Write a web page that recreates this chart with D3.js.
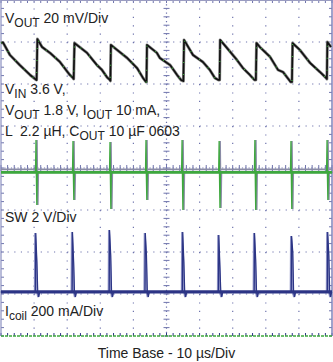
<!DOCTYPE html>
<html><head><meta charset="utf-8">
<script src="https://cdn.jsdelivr.net/npm/d3@7/dist/d3.min.js"></script>
<style>
body{margin:0;background:#fff}
svg{display:block}
text{font-family:"Liberation Sans",Arial,sans-serif;fill:#222;font-size:14px}
</style>
</head><body>
<svg id="c" width="333" height="362"></svg>
<script>
// ---- data (time in µs, VOUT in mV, SW in V, Icoil in mA) ----
const timeTicks = [0,10,20,30,40,50,60,70,80,90,100];
const divTicks = [-4,-3,-2,-1,0,1,2,3,4];

const voutTime = [0,0.6,2.7,5.7,8.8,10.3,10.75,
  11.0,12.4,14.8,17.8,20.8,21.75,21.95,
  22.2,26.0,29.0,30.5,32.0,32.9,33.05,
  33.2,34.4,38.1,41.1,42.9,43.8,43.95,
  44.1,47.1,48.0,51.1,53.2,54.4,55.1,
  55.3,58.0,61.0,63.1,64.6,65.7,66.05,
  66.2,68.3,71.3,73.1,75.2,76.6,77.0,
  77.2,78.2,81.3,83.7,85.2,87.5,87.9,
  88.1,90.3,93.4,96.4,98.2,98.45,
  98.6,99.7];
const voutMv = [19.5,19.8,13.8,9.0,4.3,2.4,1.9,
  21.4,17.6,14.8,10.5,4.3,2.9,2.4,
  19.5,14.8,9.0,6.7,3.3,1.9,1.5,
  18.6,17.1,12.4,7.6,2.9,1.0,1.0,
  18.6,14.8,12.4,9.0,4.3,1.9,1.4,
  21.0,13.8,10.5,6.7,2.9,1.9,1.9,
  21.0,17.1,11.4,7.6,4.3,1.9,1.9,
  19.5,17.6,12.9,6.7,5.7,1.0,1.0,
  19.5,16.2,10.0,5.7,2.9,2.4,
  20.0,17.6];

const swSpikeTime = [10.57,21.75,32.93,43.8,54.7,65.9,76.7,87.6,98.5];
const swSpikeHigh = [1.33,1.28,1.24,1.33,1.33,1.28,1.33,1.28,1.33];
const swSpikeLow  = [-1.76,-1.52,-1.95,-1.52,-2.0,-1.9,-2.0,-1.95,-1.52];
const swBase = -0.21;
const swGrayBase = -0.07;

const icoilSpikeTime = [10.5,21.6,32.8,43.6,54.9,65.8,76.6,87.8,98.7];
const icoilPeak = [290,295,305,290,295,281,290,276,295];
const icoilKnee = [152,152,185,185,152,129,162,200,185];
const icoilBase = 10;
const icoilUnder = -14;

// ---- scales ----
const W = 333, H = 362;
const x = d3.scaleLinear().domain([0,100]).range([1,332]);
const yDiv = d3.scaleLinear().domain([-4,4]).range([336,0]);
const yVout = d3.scaleLinear().domain([(-4-2)*20,(4-2)*20]).range([336,0]); // ref at +2 div, 20 mV/div
const ySw = d3.scaleLinear().domain([-4*2,4*2]).range([336,0]);             // ref at 0 div, 2 V/div
const yIc = d3.scaleLinear().domain([(-4+3)*200,(4+3)*200]).range([336,0]); // ref at -3 div, 200 mA/div

const svg = d3.select('#c');
svg.append('rect').attr('width',W).attr('height',H).attr('fill','#fff');

const gridCol = '#6f74ad';
const g = svg.append('g');

// dotted grid
timeTicks.slice(1,-1).forEach(t=>{
  if (t===50) return;
  g.append('line').attr('x1',x(t)).attr('x2',x(t)).attr('y1',yDiv(4)).attr('y2',yDiv(-4))
   .attr('stroke',gridCol).attr('stroke-width',1.2).attr('stroke-dasharray','1.2 7.2');
});
divTicks.slice(1,-1).forEach(d=>{
  if (d===0) return;
  g.append('line').attr('x1',x(0)).attr('x2',x(100)).attr('y1',yDiv(d)).attr('y2',yDiv(d))
   .attr('stroke',gridCol).attr('stroke-width',1.2).attr('stroke-dasharray','1.2 5.42');
});
// center axes with minor ticks
const minorT = d3.range(0,100.01,2);
const minorD = d3.range(-4,4.01,0.2);
g.append('line').attr('x1',x(50)).attr('x2',x(50)).attr('y1',yDiv(4)).attr('y2',yDiv(-4))
 .attr('stroke',gridCol).attr('stroke-width',1.2).attr('stroke-dasharray','1.2 3');
g.append('line').attr('x1',x(0)).attr('x2',x(100)).attr('y1',yDiv(0)).attr('y2',yDiv(0))
 .attr('stroke',gridCol).attr('stroke-width',1.2).attr('stroke-dasharray','1.2 2.1');
minorD.forEach(d=>{
  g.append('line').attr('x1',x(50)-3).attr('x2',x(50)+3).attr('y1',yDiv(d)).attr('y2',yDiv(d))
   .attr('stroke',gridCol).attr('stroke-width',1);
  g.append('line').attr('x1',x(0)).attr('x2',x(0)+3).attr('y1',yDiv(d)).attr('y2',yDiv(d))
   .attr('stroke',gridCol).attr('stroke-width',1);
  g.append('line').attr('x1',x(100)-3).attr('x2',x(100)).attr('y1',yDiv(d)).attr('y2',yDiv(d))
   .attr('stroke',gridCol).attr('stroke-width',1);
});
minorT.forEach(t=>{
  g.append('line').attr('x1',x(t)).attr('x2',x(t)).attr('y1',yDiv(0)-3).attr('y2',yDiv(0)+3)
   .attr('stroke',gridCol).attr('stroke-width',1);
  g.append('line').attr('x1',x(t)).attr('x2',x(t)).attr('y1',yDiv(4)).attr('y2',yDiv(4)+3)
   .attr('stroke',gridCol).attr('stroke-width',1);
  g.append('line').attr('x1',x(t)).attr('x2',x(t)).attr('y1',yDiv(-4)-3).attr('y2',yDiv(-4))
   .attr('stroke','#2c3585').attr('stroke-width',1);
});
// border
g.append('line').attr('x1',x(0)).attr('x2',x(100)).attr('y1',yDiv(4)+0.5).attr('y2',yDiv(4)+0.5).attr('stroke','#9a9cc0').attr('stroke-width',1);
g.append('line').attr('x1',x(0)).attr('x2',x(0)).attr('y1',yDiv(4)).attr('y2',yDiv(-4)).attr('stroke','#8a8fc0').attr('stroke-width',1.2);
g.append('line').attr('x1',x(100)).attr('x2',x(100)).attr('y1',yDiv(4)).attr('y2',yDiv(-4)).attr('stroke','#7f84bb').attr('stroke-width',1.5);
g.append('line').attr('x1',x(0)).attr('x2',x(100)).attr('y1',yDiv(-4)).attr('y2',yDiv(-4)).attr('stroke','#3ea83e').attr('stroke-width',1.6).attr('stroke-dasharray','3 1');

// ---- traces ----
const tr = svg.append('g');
// SW
const swPts = [[0,swBase]];
swSpikeTime.forEach((t,i)=>{
  swPts.push([t-0.15,swBase],[t,swSpikeHigh[i]],[t+0.1,swBase],[t+0.25,swSpikeLow[i]],[t+0.4,swBase]);
});
swPts.push([100,swBase]);
const lineSw = d3.line().x(d=>x(d[0])).y(d=>ySw(d[1]));
tr.append('path').attr('d',lineSw([[0,swGrayBase],[100,swGrayBase]])).attr('stroke','#8a8ca6').attr('stroke-width',1.8).attr('fill','none');
tr.append('path').attr('d',lineSw(swPts)).attr('stroke','#8a8ca6').attr('stroke-width',1.6).attr('fill','none').attr('transform','translate(1,0)');
tr.append('path').attr('d',lineSw([[0,swBase],[100,swBase]])).attr('stroke','#3ea83e').attr('stroke-width',2.8).attr('fill','none');
tr.append('path').attr('d',lineSw(swPts)).attr('stroke','#3ea83e').attr('stroke-width',1.3).attr('fill','none');

// Icoil
const icPts = [[0,icoilBase]];
icoilSpikeTime.forEach((t,i)=>{
  icPts.push([t-0.1,icoilBase],[t,icoilPeak[i]],[t+0.35,icoilKnee[i]],[t+0.6,icoilBase],[t+0.9,icoilUnder],[t+1.2,icoilBase]);
});
icPts.push([100,icoilBase]);
const lineIc = d3.line().x(d=>x(d[0])).y(d=>yIc(d[1]));
tr.append('path').attr('d',lineIc(icPts)).attr('stroke','#8a8fc4').attr('stroke-width',2).attr('fill','none').attr('transform','translate(-0.6,0)');
tr.append('path').attr('d',lineIc([[0,icoilBase],[100,icoilBase]])).attr('stroke','#2c3585').attr('stroke-width',3.4).attr('fill','none');
tr.append('path').attr('d',lineIc(icPts)).attr('stroke','#2c3585').attr('stroke-width',1.2).attr('fill','none');

// VOUT
const voutPts = voutTime.map((t,i)=>[t,voutMv[i]]);
const lineV = d3.line().x(d=>x(d[0])).y(d=>yVout(d[1]));
tr.append('path').attr('d',lineV(voutPts)).attr('stroke','#8a8a8a').attr('stroke-width',3).attr('fill','none').attr('stroke-linejoin','round');
tr.append('path').attr('d',lineV(voutPts)).attr('stroke','#111').attr('stroke-width',1.7).attr('fill','none').attr('stroke-linejoin','round');
tr.append('path').attr('d',lineV(voutPts)).attr('stroke','#3ea83e').attr('stroke-width',1.2).attr('fill','none').attr('stroke-dasharray','1 11');

// ---- labels ----
function label(parts, px, py, anchor){
  const t = svg.append('text').attr('x',px).attr('y',py).attr('text-anchor',anchor||'start').attr('xml:space','preserve');
  let shift = 0;
  parts.forEach(p=>{
    const sub = p.startsWith('_');
    const txt = sub ? p.slice(1) : p;
    const target = sub ? 4 : 0;
    t.append('tspan').attr('dy',target-shift).attr('font-size',sub?12:14).text(txt);
    shift = target;
  });
}
label(['V','_OUT',' 20 mV/Div'],5,23);
label(['V','_IN',' 3.6 V,'],5,94);
label(['V','_OUT',' 1.8 V, I','_OUT',' 10 mA,'],5,115);
label(['L  2.2 µH, C','_OUT',' 10 µF 0603'],5,136);
label(['SW 2 V/Div'],5,222);
label(['I','_coil',' 200 mA/Div'],5,316);
label(['Time Base - 10 µs/Div'],166.5,358,'middle');
</script>
</body></html>
